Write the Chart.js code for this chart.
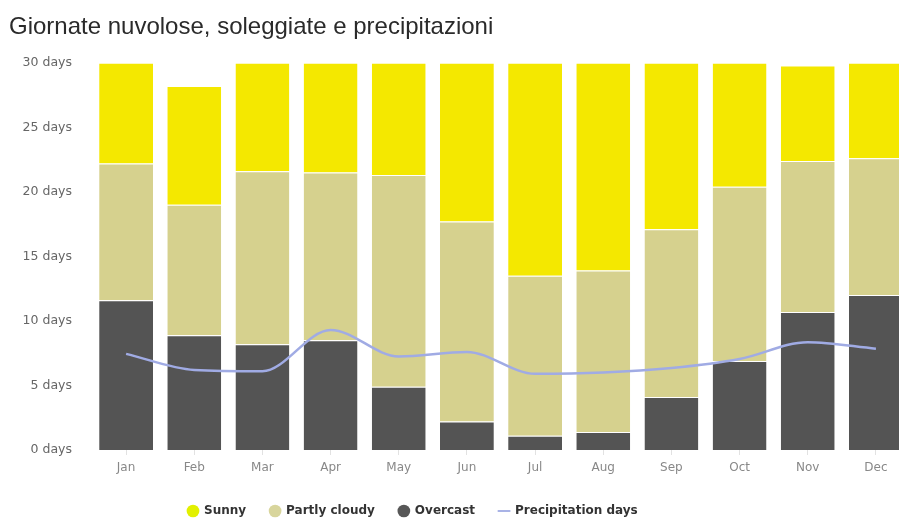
<!DOCTYPE html>
<html>
<head>
<meta charset="utf-8">
<script src="https://cdn.jsdelivr.net/npm/chart.js@4.4.1/dist/chart.umd.min.js"></script>
<style>
  html, body { margin: 0; padding: 0; background: #ffffff; overflow: hidden; width: 899px; height: 518px; }
  #wrap { width: 910px; height: 527px; }
</style>
</head>
<body>
<div id="wrap"><canvas id="c" width="910" height="527"></canvas></div>
<script>
const months = ['Jan', 'Feb', 'Mar', 'Apr', 'May', 'Jun', 'Jul', 'Aug', 'Sep', 'Oct', 'Nov', 'Dec'];
const overcastDays = [11.6, 8.9, 8.2, 8.5, 4.9, 2.2, 1.1, 1.4, 4.1, 6.9, 10.7, 12.0];
const partlyCloudyDays = [10.6, 10.1, 13.4, 13.0, 16.4, 15.5, 12.4, 12.5, 13.0, 13.5, 11.7, 10.6];
const sunnyDays = [7.8, 9.2, 8.4, 8.5, 8.7, 12.3, 16.5, 16.1, 12.9, 9.6, 7.4, 7.4];
const precipitationDays = [7.45, 6.2, 6.1, 9.3, 7.25, 7.6, 5.9, 6.0, 6.35, 7.05, 8.35, 7.85];
const yTicks = [0, 5, 10, 15, 20, 25, 30];
const titleText = 'Giornate nuvolose, soleggiate e precipitazioni';

const legendRank = [2, 1, 0, 3];
const legendFill = ['#575757', '#d8d59c', '#e2f000', '#a9b3e6'];

const legendShift = {
  id: 'legendShift',
  afterLayout(chart) {
    if (chart.legend) { chart.legend.left = 164; }
  }
};

new Chart(document.getElementById('c'), {
  data: {
    labels: months,
    datasets: [
      { type: 'bar', label: 'Overcast', data: overcastDays, backgroundColor: '#545454', stack: 'w', order: 1,
        borderColor: 'rgba(255,255,255,0.85)', borderWidth: { top: 1, left: 0, right: 0, bottom: 0 } },
      { type: 'bar', label: 'Partly cloudy', data: partlyCloudyDays, backgroundColor: '#d6d18e', stack: 'w', order: 1,
        borderColor: 'rgba(255,255,255,0.85)', borderWidth: { top: 1, left: 0, right: 0, bottom: 0 } },
      { type: 'bar', label: 'Sunny', data: sunnyDays, backgroundColor: '#f4e800', stack: 'w', order: 1,
        borderColor: 'rgba(255,255,255,0.85)', borderWidth: { top: 1, left: 0, right: 0, bottom: 0 } },
      { type: 'line', label: 'Precipitation days', data: precipitationDays, stack: 'p', order: 0,
        borderColor: '#a0abe4', borderWidth: 2.5, cubicInterpolationMode: 'monotone', pointRadius: 0, fill: false }
    ]
  },
  options: {
    responsive: false,
    animation: false,
    devicePixelRatio: 1,
    layout: { padding: { left: 9, right: 0, top: 0, bottom: 0 } },
    datasets: { bar: { categoryPercentage: 1, barPercentage: 0.79 } },
    scales: {
      x: {
        stacked: true,
        offset: true,
        grid: { display: true, drawOnChartArea: false, drawTicks: true, tickLength: 5, color: '#e2e2e2', offset: false },
        border: { display: false },
        ticks: { padding: 7, color: '#888888', font: { family: 'DejaVu Sans', size: 12, lineHeight: 1 } }
      },
      y: {
        stacked: true,
        min: 0,
        max: 30,
        afterFit(scale) { scale.width = 83; },
        afterBuildTicks(scale) { scale.ticks = yTicks.map(v => ({ value: v })); },
        grid: { display: false, drawTicks: false },
        border: { display: false },
        ticks: { padding: 20, color: '#666666', font: { family: 'DejaVu Sans', size: 12.5 },
          callback: (v) => v + ' days' }
      }
    },
    plugins: {
      title: {
        display: true,
        text: titleText,
        align: 'start',
        color: '#2a2a2a',
        font: { family: 'Liberation Sans', size: 24, weight: 'normal', lineHeight: 1.2 },
        padding: { top: 13, bottom: 21 }
      },
      legend: {
        display: true,
        position: 'bottom',
        align: 'start',
        labels: {
          usePointStyle: true,
          boxWidth: 10,
          boxHeight: 9,
          padding: 24,
          color: '#333333',
          font: { family: 'DejaVu Sans', size: 12, weight: 'bold' },
          sort: (a, b) => legendRank[a.datasetIndex] - legendRank[b.datasetIndex],
          generateLabels(chart) {
            const items = Chart.defaults.plugins.legend.labels.generateLabels(chart);
            items.forEach(it => {
              const i = it.datasetIndex;
              if (i === 3) {
                it.pointStyle = 'line';
                it.strokeStyle = legendFill[i];
                it.fillStyle = legendFill[i];
                it.lineWidth = 2;
              } else {
                it.pointStyle = 'circle';
                it.fillStyle = legendFill[i];
                it.strokeStyle = legendFill[i];
                it.lineWidth = 0;
              }
            });
            return items;
          }
        }
      },
      tooltip: { enabled: false }
    }
  },
  plugins: [legendShift]
});
</script>
</body>
</html>
